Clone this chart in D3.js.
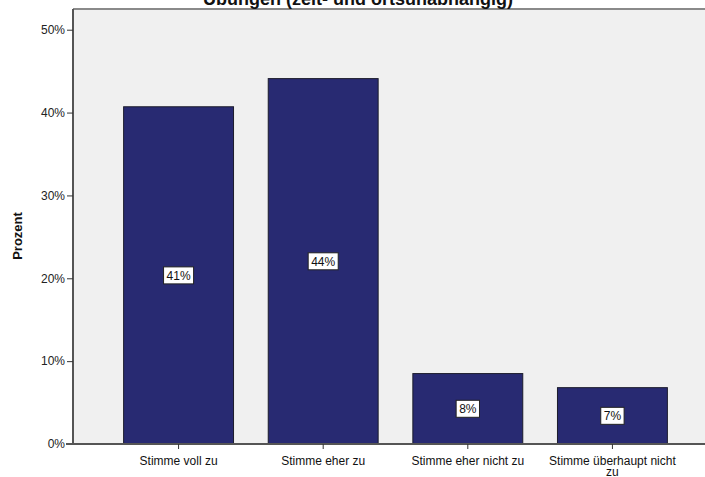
<!DOCTYPE html>
<html><head><meta charset="utf-8">
<script src="https://cdn.jsdelivr.net/npm/d3@7"></script>
<style>body{margin:0;background:#fff}svg{display:block;font-family:"Liberation Sans",Arial,sans-serif}</style>
</head><body><svg id="c" width="705" height="477"></svg>
<script>
const categories = ["Stimme voll zu", "Stimme eher zu", "Stimme eher nicht zu", "Stimme überhaupt nicht zu"];
const values = [40.7, 44.1, 8.5, 6.8];
const valueLabels = ["41%", "44%", "8%", "7%"];
const yTicks = [0, 10, 20, 30, 40, 50];
const title = "Übungen (zeit- und ortsunabhängig)";
const yTitle = "Prozent";

(function () {
const svg = d3.select("#c");
const pLeft = 73, pBottom = 444, pTop = 9, pRight = 718;
const x = d3.scaleBand().domain(categories).range([pLeft, pRight]).paddingInner(0.24).paddingOuter(0.35);
const y = d3.scaleLinear().domain([0, 52.5]).range([pBottom, pTop]);

svg.append("rect").attr("x", pLeft).attr("y", pTop).attr("width", 705 - pLeft).attr("height", pBottom - pTop).attr("fill", "#f0f0f0");
svg.append("line").attr("x1", pLeft).attr("x2", 705).attr("y1", pTop).attr("y2", pTop).attr("stroke", "#8a8a8a").attr("stroke-width", 2);

svg.append("text").attr("x", 358).attr("y", 4.5).attr("text-anchor", "middle").attr("font-weight", "bold").attr("font-size", 18).attr("fill", "#111").text(title);

svg.selectAll("rect.bar").data(values).join("rect").attr("class", "bar")
  .attr("x", (d, i) => x(categories[i])).attr("width", x.bandwidth())
  .attr("y", d => y(d)).attr("height", d => pBottom - y(d))
  .attr("fill", "#282a72").attr("stroke", "#1c1c2c").attr("stroke-width", 1);

const yAxis = svg.append("g").attr("transform", `translate(${pLeft},0)`)
  .call(d3.axisLeft(y).tickValues(yTicks).tickSize(6).tickPadding(2).tickFormat(d => d + "%"));
yAxis.select(".domain").attr("stroke", "#555").attr("stroke-width", 2).attr("d", `M0,${pBottom}V${pTop}`);
yAxis.selectAll(".tick line").attr("stroke", "#333");
yAxis.selectAll(".tick text").attr("font-size", 12).attr("fill", "#222").attr("font-family", "Liberation Sans, Arial, sans-serif");

const xAxis = svg.append("g").attr("transform", `translate(0,${pBottom})`)
  .call(d3.axisBottom(x).tickSize(5).tickPadding(5).tickFormat(""));
xAxis.select(".domain").attr("stroke", "#555").attr("stroke-width", 2).attr("d", `M${pLeft - 7},0H705`);
xAxis.selectAll(".tick line").attr("stroke", "#333");

const wrapW = 140;
categories.forEach(c => {
  const t = svg.append("text").attr("text-anchor", "middle").attr("font-size", 12).attr("fill", "#111");
  const words = c.split(" ");
  let lines = [], cur = [];
  const tmp = t.append("tspan");
  words.forEach(w => {
    cur.push(w);
    tmp.text(cur.join(" "));
    if (tmp.node().getComputedTextLength() > wrapW && cur.length > 1) {
      cur.pop(); lines.push(cur.join(" ")); cur = [w];
    }
  });
  lines.push(cur.join(" "));
  tmp.remove();
  lines.forEach((l, i) => t.append("tspan").attr("x", x(c) + x.bandwidth() / 2).attr("y", 465 + i * 10.5).text(l));
});

values.forEach((v, i) => {
  const cx = x(categories[i]) + x.bandwidth() / 2;
  const cy = (y(v) + pBottom) / 2;
  const g = svg.append("g");
  const t = g.append("text").attr("x", cx).attr("y", cy + 4.5).attr("text-anchor", "middle").attr("font-size", 12).attr("fill", "#111").text(valueLabels[i]);
  const w = t.node().getComputedTextLength() + 6;
  g.insert("rect", "text").attr("x", cx - w / 2).attr("y", cy - 8.5).attr("width", w).attr("height", 17)
    .attr("fill", "#fff").attr("stroke", "#222").attr("stroke-width", 1);
});

svg.append("text").attr("transform", "translate(22,236) rotate(-90)").attr("text-anchor", "middle")
  .attr("font-weight", "bold").attr("font-size", 13).attr("fill", "#111").text(yTitle);
})();
</script></body></html>
